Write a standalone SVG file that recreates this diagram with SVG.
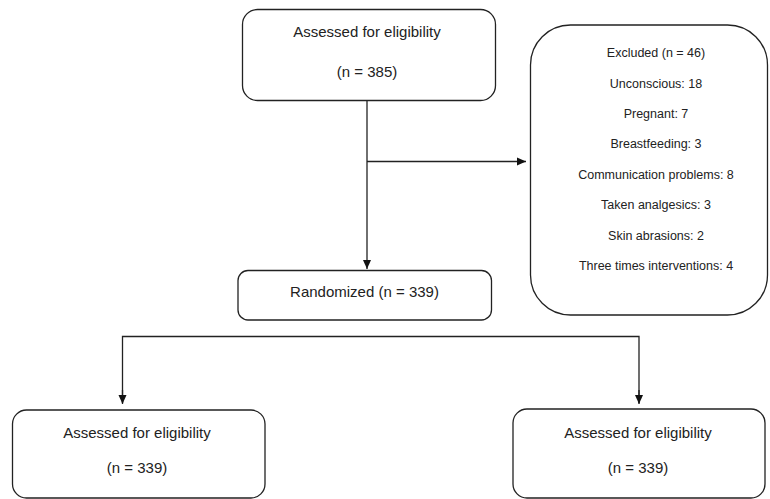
<svg xmlns="http://www.w3.org/2000/svg" width="770" height="499" viewBox="0 0 770 499">
<defs>
<marker id="arr" markerWidth="10" markerHeight="10" refX="9" refY="5" orient="auto" markerUnits="userSpaceOnUse">
<path d="M0,1 L9,5 L0,9 Z" fill="#111"/>
</marker>
<style>
.box{fill:#fff;stroke:#222;stroke-width:1.3}
.t{font-family:"Liberation Sans",Arial,sans-serif;font-size:15px;fill:#222;text-anchor:middle}
.s{font-family:"Liberation Sans",Arial,sans-serif;font-size:12.5px;fill:#222;text-anchor:middle}
.c{fill:none;stroke:#222;stroke-width:1.3}
</style>
</defs>
<rect width="770" height="499" fill="#fff"/>
<g id="connectors">
<line class="c" x1="367" y1="101" x2="367" y2="269" marker-end="url(#arr)"/>
<line class="c" x1="367" y1="161.5" x2="526" y2="161.5" marker-end="url(#arr)"/>
<polyline class="c" points="639,403 639,336.5 122.5,336.5 122.5,403"/>
<line class="c" x1="122.5" y1="390" x2="122.5" y2="404" marker-end="url(#arr)"/>
<line class="c" x1="639" y1="390" x2="639" y2="404" marker-end="url(#arr)"/>
</g>
<g id="assessed-top">
<rect class="box" x="242.5" y="9.5" width="253" height="91" rx="15"/>
<text class="t" x="367" y="37">Assessed for eligibility</text>
<text class="t" x="367" y="77">(n = 385)</text>
</g>
<g id="excluded">
<rect class="box" x="530.5" y="25" width="237" height="290" rx="40"/>
<text class="s" x="656" y="57">Excluded (n = 46)</text>
<text class="s" x="656" y="88">Unconscious: 18</text>
<text class="s" x="656" y="118">Pregnant: 7</text>
<text class="s" x="656" y="148">Breastfeeding: 3</text>
<text class="s" x="656" y="179">Communication problems: 8</text>
<text class="s" x="656" y="209">Taken analgesics: 3</text>
<text class="s" x="656" y="240">Skin abrasions: 2</text>
<text class="s" x="656" y="270">Three times interventions: 4</text>
</g>
<g id="randomized">
<rect class="box" x="238" y="270.5" width="253.5" height="49.5" rx="10"/>
<text class="t" x="364.5" y="297">Randomized (n = 339)</text>
</g>
<g id="assessed-left">
<rect class="box" x="12.5" y="410" width="252.5" height="88" rx="14"/>
<text class="t" x="137" y="438">Assessed for eligibility</text>
<text class="t" x="137" y="473">(n = 339)</text>
</g>
<g id="assessed-right">
<rect class="box" x="513" y="409" width="252" height="89" rx="14"/>
<text class="t" x="638" y="438">Assessed for eligibility</text>
<text class="t" x="638" y="473">(n = 339)</text>
</g>
</svg>
